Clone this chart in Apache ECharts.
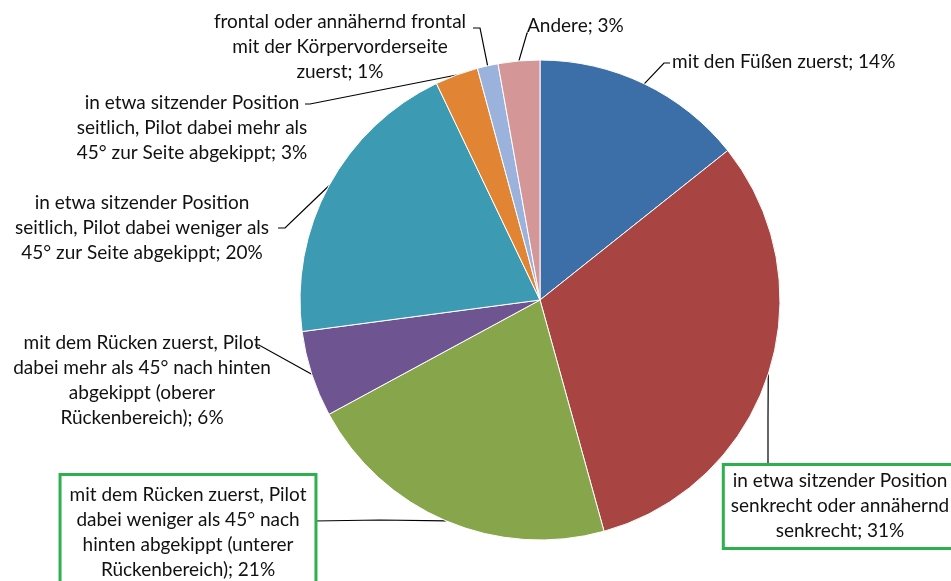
<!DOCTYPE html>
<html>
<head>
<meta charset="utf-8">
<script src="https://cdn.jsdelivr.net/npm/echarts@6/dist/echarts.min.js"></script>
<style>
  html, body { margin: 0; padding: 0; background: #fff; }
  #chart { width: 951px; height: 581px; }
</style>
</head>
<body>
<div id="chart"></div>
<script>
// Kategorien (Zeilenumbrüche wie im Original)
const categories = [
  'mit den Füßen zuerst',
  'in etwa sitzender Position\nsenkrecht oder annähernd\nsenkrecht',
  'mit dem Rücken zuerst, Pilot\ndabei weniger als 45° nach\nhinten abgekippt (unterer\nRückenbereich)',
  'mit dem Rücken zuerst, Pilot\ndabei mehr als 45° nach hinten\nabgekippt (oberer\nRückenbereich)',
  'in etwa sitzender Position\nseitlich, Pilot dabei weniger als\n45° zur Seite abgekippt',
  'in etwa sitzender Position\nseitlich, Pilot dabei mehr als\n45° zur Seite abgekippt',
  'frontal oder annähernd frontal\nmit der Körpervorderseite\nzuerst',
  'Andere'
];
// Anteile in %
const shares = [14.3, 31.4, 21.4, 5.8, 20.0, 2.9, 1.4, 2.8];
const colors = ['#3c6ea8', '#a84543', '#87a54a', '#6e5592', '#3c9ab3', '#e18534', '#9ab2dc', '#d49696'];

// label placement: x, y, align, verticalAlign, bend point, end point
const labelPos = [
  { x: 672, y: 62, align: 'left', va: 'middle', p1: [664, 63], p2: [670, 63] },
  { x: 840, y: 466, align: 'center', va: 'top', p1: [768, 420], p2: [768, 466] },
  { x: 188, y: 476, align: 'center', va: 'top', p1: [380, 520], p2: [314, 521] },
  { x: 142, y: 330, align: 'center', va: 'top', p1: [259, 345], p2: [255, 345] },
  { x: 142, y: 190, align: 'center', va: 'top', p1: [285, 228], p2: [278, 228] },
  { x: 192, y: 90, align: 'center', va: 'top', p1: [310, 104], p2: [305, 104] },
  { x: 340, y: 9, align: 'center', va: 'top', p1: [480, 28], p2: [473, 28] },
  { x: 527, y: 26, align: 'left', va: 'middle', p1: [527, 33], p2: [528, 33] }
];
const boxed = [1, 2];

const data = categories.map((name, i) => {
  const item = { name: name, value: shares[i], itemStyle: { color: colors[i] } };
  if (boxed.indexOf(i) >= 0) {
    item.label = {
      borderColor: '#2eb04f',
      borderWidth: 3,
      backgroundColor: '#fff',
      padding: i === 1 ? [2, 6, 4, 6] : [6, 8, 4, 8]
    };
  }
  return item;
});

const chart = echarts.init(document.getElementById('chart'));
chart.setOption({
  animation: false,
  series: [{
    type: 'pie',
    center: [540, 300],
    radius: 240,
    startAngle: 90,
    clockwise: true,
    avoidLabelOverlap: false,
    data: data,
    itemStyle: { borderColor: '#fff', borderWidth: 1 },
    label: {
      show: true,
      position: 'outside',
      color: '#111',
      fontFamily: 'Lato',
      fontSize: 19,
      lineHeight: 25,
      formatter: p => p.name + '; ' + Math.round(p.value) + '%'
    },
    labelLine: {
      show: true,
      lineStyle: { color: '#000', width: 1.2 }
    },
    labelLayout: function (params) {
      const lp = labelPos[params.dataIndex];
      const start = params.labelLinePoints ? params.labelLinePoints[0] : lp.p1;
      return {
        x: lp.x,
        y: lp.y,
        align: lp.align,
        verticalAlign: lp.va,
        labelLinePoints: [start, lp.p1, lp.p2]
      };
    }
  }]
});
</script>
</body>
</html>
